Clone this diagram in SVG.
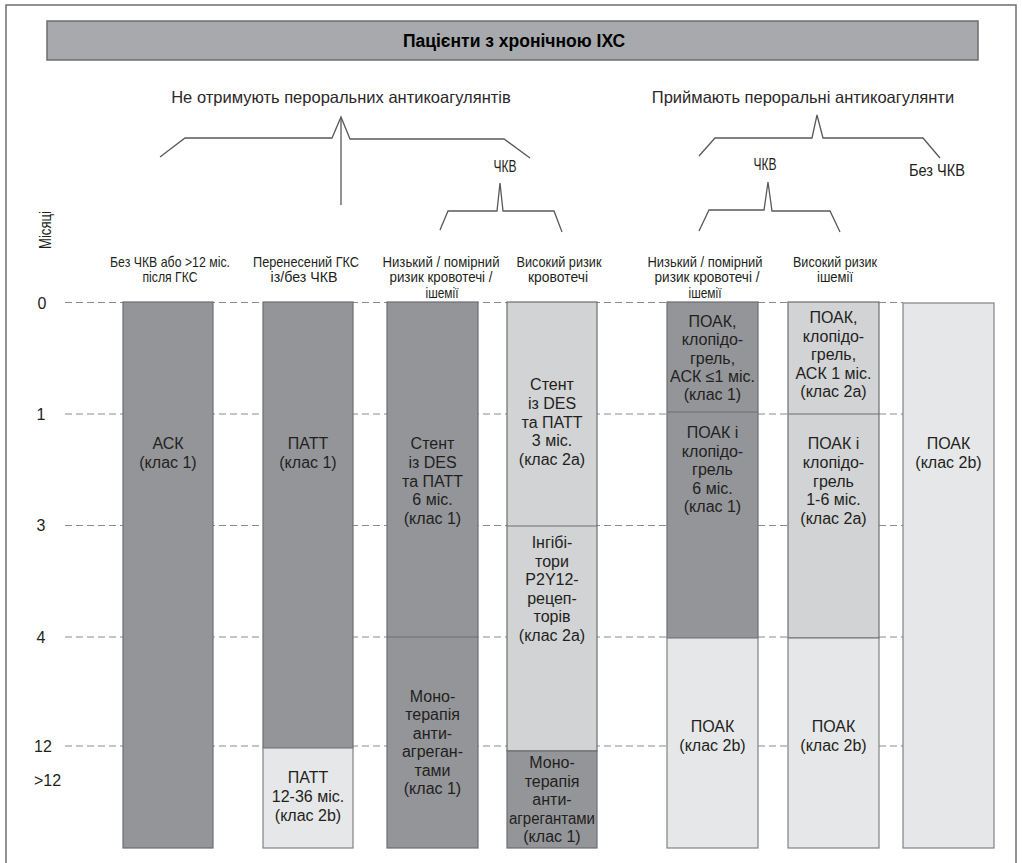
<svg xmlns="http://www.w3.org/2000/svg" width="1022" height="863" viewBox="0 0 1022 863">
<style>
.t{font-family:"Liberation Sans",Arial,sans-serif;font-size:16px;fill:#231f20;text-anchor:middle}
.n{font-family:"Liberation Sans",Arial,sans-serif;font-size:14.8px;fill:#231f20;text-anchor:middle}
.h{font-family:"Liberation Sans",Arial,sans-serif;font-size:16.5px;fill:#2b2829;text-anchor:middle}
.ax{font-family:"Liberation Sans",Arial,sans-serif;font-size:16px;fill:#231f20}
.dk{fill:#939598;stroke:#6d6e71;stroke-width:1.2}
.md{fill:#d1d3d4;stroke:#6d6e71;stroke-width:1.2}
.lt{fill:#e6e7e8;stroke:#808285;stroke-width:1.2}
.sp{stroke:#6d6e71;stroke-width:1.2}
.dash{stroke:#8a8b8e;stroke-width:1.2;stroke-dasharray:7 4;fill:none}
.br{fill:none;stroke:#58595b;stroke-width:1.3;stroke-linejoin:miter}
</style>
<rect x="0" y="0" width="1022" height="863" fill="#ffffff"/>
<rect x="6" y="5" width="1010" height="880" fill="none" stroke="#6d6e71" stroke-width="1.5"/>

<g id="title">
<rect x="47" y="21" width="931" height="39" fill="#a7a9ac" stroke="#6d6e71" stroke-width="1.5"/>
<text x="514" y="47" style="font-family:'Liberation Sans',Arial,sans-serif;font-size:17.5px;font-weight:bold;fill:#000;text-anchor:middle">Пацієнти з хронічною ІХС</text>
</g>

<g id="group-no-oac"><text class="h" x="341" y="103">Не отримують пероральних антикоагулянтів</text></g>
<g id="group-oac"><text class="h" x="803" y="103">Приймають пероральні антикоагулянти</text></g>
<g id="pci-left"><text class="n" x="505" y="172" style="font-size:17px" textLength="23" lengthAdjust="spacingAndGlyphs">ЧКВ</text></g>
<g id="pci-right"><text class="n" x="765" y="170" style="font-size:17px" textLength="23" lengthAdjust="spacingAndGlyphs">ЧКВ</text></g>
<g id="no-pci-right"><text class="n" x="937" y="176" style="font-size:17px" textLength="56" lengthAdjust="spacingAndGlyphs">Без ЧКВ</text></g>

<g id="connectors">
<path class="br" d="M160,157 L185,138 L332,138 L341,117 L350,139 L504,139 L530,158"/>
<path class="br" d="M341,119 L341,205"/>
<path class="br" d="M440,230 L448,211 L497,211 L500,183 L503,211 L554,211 L562,232"/>
<path class="br" d="M699,156 L715,138 L812,138 L817,115 L823,138 L923,138 L940,158"/>
<path class="br" d="M699,231 L709,210 L764,210 L768,182 L772,211 L830,211 L840,232"/>
</g>

<g id="axis">
<text class="ax" x="0" y="0" transform="translate(51,230) rotate(-90)" style="font-size:16.5px;text-anchor:middle" textLength="38" lengthAdjust="spacingAndGlyphs">Місяці</text>
<text class="ax" x="42" y="309" text-anchor="middle">0</text>
<text class="ax" x="41" y="420" text-anchor="middle">1</text>
<text class="ax" x="41" y="531" text-anchor="middle">3</text>
<text class="ax" x="41" y="643" text-anchor="middle">4</text>
<text class="ax" x="34" y="752">12</text>
<text class="ax" x="34" y="786">&gt;12</text>
<line class="dash" x1="65" y1="302.5" x2="903" y2="302.5"/>
<line class="dash" x1="65" y1="414" x2="903" y2="414"/>
<line class="dash" x1="65" y1="525.5" x2="903" y2="525.5"/>
<line class="dash" x1="65" y1="637" x2="903" y2="637"/>
<line class="dash" x1="65" y1="746" x2="903" y2="746"/>
</g>

<g id="hdr1"><text class="n" x="170" y="266.5" textLength="120" lengthAdjust="spacingAndGlyphs">Без ЧКВ або &gt;12 міс.</text><text class="n" x="170" y="282" textLength="55" lengthAdjust="spacingAndGlyphs">після ГКС</text></g>
<g id="hdr2"><text class="n" x="306" y="266.5" textLength="106" lengthAdjust="spacingAndGlyphs">Перенесений ГКС</text><text class="n" x="304" y="282" textLength="67" lengthAdjust="spacingAndGlyphs">із/без ЧКВ</text></g>
<g id="hdr3"><text class="n" x="441" y="266.5" textLength="117" lengthAdjust="spacingAndGlyphs">Низький / помірний</text><text class="n" x="441" y="282" textLength="103" lengthAdjust="spacingAndGlyphs">ризик кровотечі /</text><text class="n" x="442" y="297.5" textLength="33" lengthAdjust="spacingAndGlyphs">ішемії</text></g>
<g id="hdr4"><text class="n" x="559" y="266.5" textLength="85" lengthAdjust="spacingAndGlyphs">Високий ризик</text><text class="n" x="558" y="282" textLength="60" lengthAdjust="spacingAndGlyphs">кровотечі</text></g>
<g id="hdr5"><text class="n" x="705" y="266.5" textLength="115" lengthAdjust="spacingAndGlyphs">Низький / помірний</text><text class="n" x="707" y="282" textLength="105" lengthAdjust="spacingAndGlyphs">ризик кровотечі /</text><text class="n" x="705" y="297.5" textLength="33" lengthAdjust="spacingAndGlyphs">ішемії</text></g>
<g id="hdr6"><text class="n" x="835" y="266.5" textLength="84" lengthAdjust="spacingAndGlyphs">Високий ризик</text><text class="n" x="835" y="282" textLength="36" lengthAdjust="spacingAndGlyphs">ішемії</text></g>

<g id="bar1">
<rect class="dk" x="123" y="302" width="90" height="546"/>
<text class="t" x="168" y="449">АСК</text><text class="t" x="168" y="468">(клас 1)</text>
</g>

<g id="bar2">
<rect class="dk" x="263" y="302" width="90" height="446"/>
<rect class="lt" x="263" y="748" width="90" height="100"/>
<text class="t" x="308" y="449">ПАТТ</text><text class="t" x="308" y="468">(клас 1)</text>
<text class="t" x="308" y="783">ПАТТ</text><text class="t" x="308" y="802">12-36 міс.</text><text class="t" x="308" y="820.5">(клас 2b)</text>
</g>

<g id="bar3">
<rect class="dk" x="387" y="302" width="91" height="546"/>
<line class="sp" x1="387" y1="637" x2="478" y2="637"/>
<text class="t" x="432.5" y="449">Стент</text><text class="t" x="432.5" y="467.75">із DES</text><text class="t" x="432.5" y="486.5">та ПАТТ</text><text class="t" x="432.5" y="505.25">6 міс.</text><text class="t" x="432.5" y="524">(клас 1)</text>
<text class="t" x="432.5" y="702">Моно-</text><text class="t" x="432.5" y="720.4">терапія</text><text class="t" x="432.5" y="738.8">анти-</text><text class="t" x="432.5" y="757.2">агреган-</text><text class="t" x="432.5" y="775.6">тами</text><text class="t" x="432.5" y="794">(клас 1)</text>
</g>

<g id="bar4">
<rect class="md" x="507" y="302" width="90" height="449"/>
<line class="sp" x1="507" y1="526" x2="597" y2="526"/>
<rect class="dk" x="507" y="751" width="90" height="97"/>
<text class="t" x="552" y="390">Стент</text><text class="t" x="552" y="408.75">із DES</text><text class="t" x="552" y="427.5">та ПАТТ</text><text class="t" x="552" y="446.25">3 міс.</text><text class="t" x="552" y="465">(клас 2а)</text>
<text class="t" x="552" y="548">Інгібі-</text><text class="t" x="552" y="566.6">тори</text><text class="t" x="552" y="585.2">P2Y12-</text><text class="t" x="552" y="603.8">рецеп-</text><text class="t" x="552" y="622.4">торів</text><text class="t" x="552" y="641">(клас 2а)</text>
<text class="t" x="552" y="768">Моно-</text><text class="t" x="552" y="786.5">терапія</text><text class="t" x="552" y="805">анти-</text><text class="t" x="552" y="823.5" textLength="86" lengthAdjust="spacingAndGlyphs">агрегантами</text><text class="t" x="552" y="842">(клас 1)</text>
</g>

<g id="bar5">
<rect class="dk" x="667" y="302" width="91" height="336"/>
<line class="sp" x1="667" y1="412" x2="758" y2="412"/>
<rect class="lt" x="667" y="638" width="91" height="210"/>
<text class="t" x="712.5" y="327">ПОАК,</text><text class="t" x="712.5" y="345.3">клопідо-</text><text class="t" x="712.5" y="363.6">грель,</text><text class="t" x="712.5" y="382">АСК ≤1 міс.</text><text class="t" x="712.5" y="400">(клас 1)</text>
<text class="t" x="712.5" y="438">ПОАК і</text><text class="t" x="712.5" y="456.5">клопідо-</text><text class="t" x="712.5" y="475">грель</text><text class="t" x="712.5" y="493.5">6 міс.</text><text class="t" x="712.5" y="512">(клас 1)</text>
<text class="t" x="712.5" y="732">ПОАК</text><text class="t" x="712.5" y="751">(клас 2b)</text>
</g>

<g id="bar6">
<rect class="md" x="788" y="302" width="91" height="336"/>
<line class="sp" x1="788" y1="414" x2="879" y2="414"/>
<rect class="lt" x="788" y="638" width="91" height="210"/>
<text class="t" x="833.5" y="323">ПОАК,</text><text class="t" x="833.5" y="341.5">клопідо-</text><text class="t" x="833.5" y="360">грель,</text><text class="t" x="833.5" y="378.5">АСК 1 міс.</text><text class="t" x="833.5" y="397">(клас 2а)</text>
<text class="t" x="833.5" y="449">ПОАК і</text><text class="t" x="833.5" y="467.75">клопідо-</text><text class="t" x="833.5" y="486.5">грель</text><text class="t" x="833.5" y="505.25">1-6 міс.</text><text class="t" x="833.5" y="524">(клас 2а)</text>
<text class="t" x="833.5" y="732">ПОАК</text><text class="t" x="833.5" y="751">(клас 2b)</text>
</g>

<g id="bar7">
<rect class="lt" x="903" y="303" width="91" height="545"/>
<text class="t" x="948.5" y="449">ПОАК</text><text class="t" x="948.5" y="468">(клас 2b)</text>
</g>
</svg>
